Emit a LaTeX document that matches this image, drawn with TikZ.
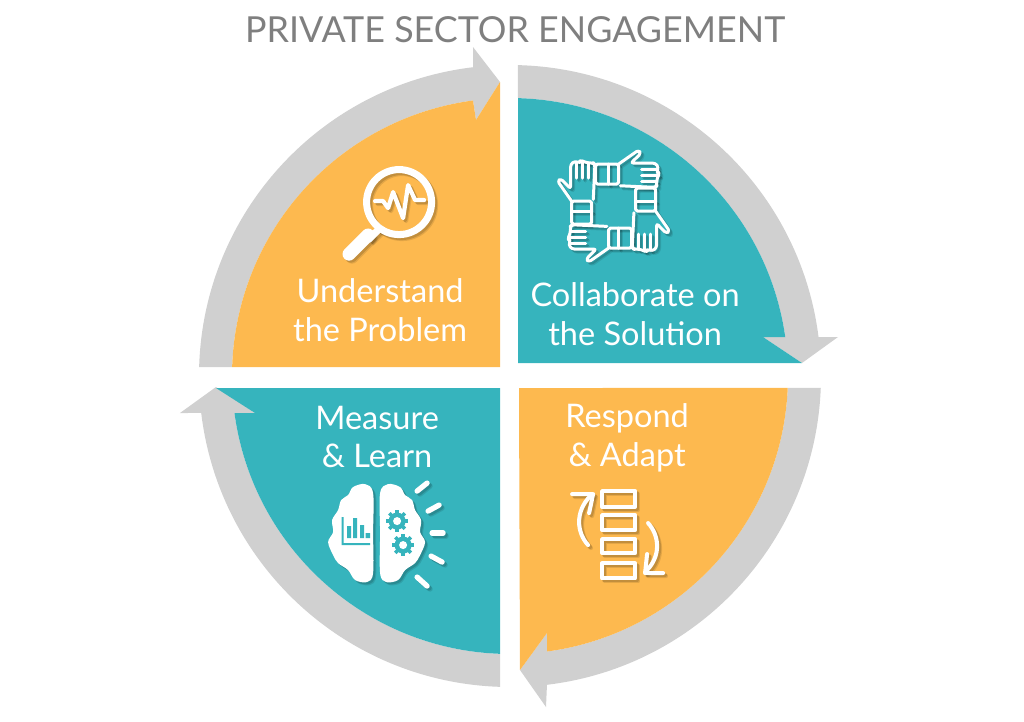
\documentclass[tikz,border=0pt]{standalone}
\usepackage{fontspec}
\setmainfont{Lato}
\definecolor{bandgray}{HTML}{D0D0D0}
\definecolor{pieorange}{HTML}{FDB94F}
\definecolor{pieteal}{HTML}{36B4BD}
\definecolor{titlegray}{HTML}{7F7F7F}
\tikzset{
  band/.style={fill=bandgray},
  orangepart/.style={fill=pieorange},
  tealpart/.style={fill=pieteal},
  steplabel/.style={text=white,align=center,font=\fontsize{18.5}{22}\selectfont},
  iconline/.style={line width=1.7pt,line cap=round,line join=round},
  iconbold/.style={line width=2.3pt,line cap=round,line join=round}
}
% icons, coordinates as in the reference image
\newcommand{\lensicon}{
  \draw[line width=4pt] (399,202) circle (32.5);
  \draw[line width=4pt] (380,228) -- (368,240);
  \draw[line width=7.5pt,line cap=round] (368,235) -- (349,254);
  \draw[line width=2.4pt,line cap=round,line join=round] (375,201) -- (383,201) -- (388,208) -- (393,192) -- (403,218) -- (408,185) -- (415,200) -- (424,200);
}
\newcommand{\handunit}{
  \draw[iconline,rounded corners=1pt] (-18,-42) rectangle (5,-22);
  \draw[iconline] (-5,-42) -- (-5,-22);
  \draw[iconline,rounded corners=1.5pt] (5,-42) -- (25,-56) -- (27.3,-52.7) -- (17.3,-43) -- (41.7,-43) -- (45,-38.7) -- (43,-34) -- (46,-33) -- (43.3,-27) -- (43,-20) -- (41.7,-18.7) -- (6.7,-20.3);
  \draw[iconline] (28,-37) -- (44,-37);
  \draw[iconline] (28,-31) -- (45,-31);
  \draw[iconline] (28,-25) -- (43,-25);
}
\newcommand{\handsicon}{
  \foreach \ang in {0,90,180,270}
    \begin{scope}[shift={(613.5,206)},rotate=\ang]
      \handunit
    \end{scope};
}
\newcommand{\brainicon}{
  \fill plot[smooth cycle,tension=.55] coordinates {(373,493) (365,484) (353,487) (348,495) (341,500) (338,510) (332,520) (333,532) (328,542) (333,555) (338,563) (348,570) (355,580) (367,582) (373,573) (373,533)};
  \fill plot[smooth cycle,tension=.55] coordinates {(380,493) (388,484) (400,487) (405,495) (412,500) (415,510) (421,520) (420,532) (425,542) (420,555) (415,563) (405,570) (398,580) (386,582) (380,573) (380,533)};
  \foreach \xa/\ya/\xb/\yb in {417/491/427/483,428/511/439/505,432/533/443/533,431/556/442/562,417/577/427/586}
    \draw[line width=3pt,line cap=round] (\xa,\ya) -- (\xb,\yb);
}
\newcommand{\gearicon}[2]{
  \fill[pieteal] (#1,#2) circle (8.5);
  \foreach \ang in {0,45,...,315}
    \draw[pieteal,line width=2pt] (#1,#2) ++(\ang:7) -- ++(\ang:4);
  \fill[white] (#1,#2) circle (4);
}
\newcommand{\stackicon}{
  \draw[iconbold] (602,491) rectangle (635,506.7);
  \draw[iconbold] (602,515) rectangle (635,530);
  \draw[iconbold] (602,539) rectangle (635,553);
  \draw[iconbold] (602,563.3) rectangle (635,578.3);
  \draw[iconbold] (588,545) .. controls (577,533) and (574,512) .. (591,495);
  \draw[iconbold] (572,494) -- (593,494) -- (589,513);
  \draw[iconbold] (648,523) .. controls (659,535) and (662,556) .. (645,572);
  \draw[iconbold] (663,573) -- (645,573) -- (647,554);
}
\begin{document}
\begin{tikzpicture}[x=0.02cm,y=0.02cm]
  \useasboundingbox (-510,-345) rectangle (514,376);
  % gray arrows
  \fill[band] (178.34:311) arc[start angle=178.34,end angle=96.83,radius=311] -- (-37,329) -- (-10,294) -- (-34,256) -- (97.65:278) arc[start angle=97.65,end angle=178.15,radius=278] -- cycle;
  \fill[band] (88.53:311) arc[start angle=88.53,end angle=7.2,radius=311] -- (328,39) -- (292,13) -- (253,39) -- (8.06:278) arc[start angle=8.06,end angle=88.35,radius=278] -- cycle;
  \fill[band] (-2.21:311) arc[start angle=-2.21,end angle=-83.17,radius=311] -- (36,-331) -- (10,-294) -- (37,-257) -- (-82.35:278) arc[start angle=-82.35,end angle=-2.47,radius=278] -- cycle;
  \fill[band] (268.16:311) arc[start angle=268.16,end angle=186.83,radius=311] -- (-330,-37) -- (-294,-11) -- (-255,-37) -- (187.65:278) arc[start angle=187.65,end angle=267.94,radius=278] -- cycle;
  % quarters
  \fill[orangepart] (-10,9) -- (-10,294) -- (-34,256) -- (97.65:278) arc[start angle=97.65,end angle=178.15,radius=278] -- cycle;
  \fill[tealpart] (8,13) -- (292,13) -- (253,39) -- (8.06:278) arc[start angle=8.06,end angle=88.35,radius=278] -- cycle;
  \fill[orangepart] (9,-12) -- (-2.47:278) arc[start angle=-2.47,end angle=-82.35,radius=278] -- (37,-257) -- (10,-294) -- cycle;
  \fill[tealpart] (-10,-12) -- (-294,-12) -- (-255,-37) -- (187.65:278) arc[start angle=187.65,end angle=267.94,radius=278] -- cycle;
  % texts and icons
  \begin{scope}[x=0.02cm,y=-0.02cm,xshift=-10.2cm,yshift=7.52cm]
    \node[text=titlegray,font=\fontsize{20.4}{24}\selectfont] (TitleNode) at (515,30) {PRIVATE SECTOR ENGAGEMENT};
    \node[steplabel] (UnderstandNode) at (380,310) {Understand\\the Problem};
    \node[steplabel] (CollaborateNode) at (635,314) {Collaborate on\\the Solution};
    \node[steplabel] (MeasureNode) at (377,437) {Measure\\\& Learn};
    \node[steplabel] (RespondNode) at (627,438) {Respond\\\& Adapt};
    \foreach \off/\op in {3/.10,2/.14}{
      \begin{scope}[shift={(\off,\off)},black,opacity=\op]
        \lensicon
        \handsicon
        \brainicon
        \stackicon
      \end{scope}
    }
    \begin{scope}[white]
      \lensicon
      \handsicon
      \brainicon
      \stackicon
    \end{scope}
    % chart and gears on the brain
    \fill[pieteal] (341.5,517) rectangle (343.5,545) (341.5,543) rectangle (370,545);
    \fill[pieteal] (347,526) rectangle (351,538) (353,518) rectangle (357,538) (360,525) rectangle (364,538) (365.5,533) rectangle (370,538);
    \gearicon{397}{521}
    \gearicon{403}{545}
  \end{scope}
\end{tikzpicture}
\end{document}
